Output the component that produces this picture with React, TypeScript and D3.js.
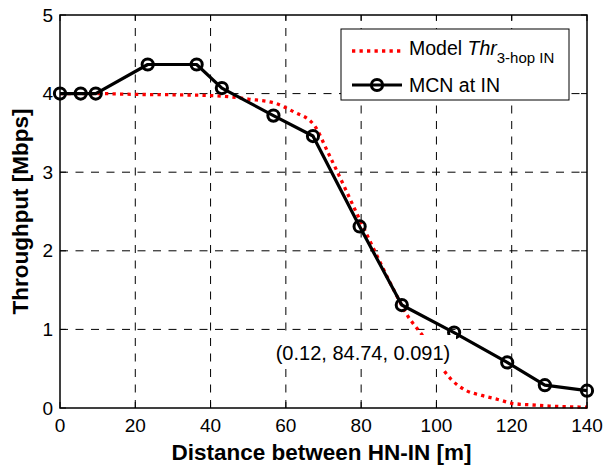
import React from "react";
import * as d3 from "d3";

const xTicks = [0, 20, 40, 60, 80, 100, 120, 140];
const yTicks = [0, 1, 2, 3, 4, 5];

const mcnX = [0, 5.5, 9.5, 23.3, 36.3, 43, 56.7, 67.2, 79.6, 90.8, 104.7, 118.8, 128.8, 140];
const mcnY = [4.0, 4.0, 4.0, 4.37, 4.37, 4.07, 3.72, 3.46, 2.31, 1.31, 0.96, 0.58, 0.29, 0.22];

const modelX = [0, 10, 20, 30, 40, 45, 50, 57, 62, 67.5, 71.3, 79.7, 88.9, 92, 96.9, 101.6, 104, 108, 112, 117, 120, 125, 130, 140];
const modelY = [4.0, 4.0, 3.99, 3.985, 3.975, 3.96, 3.93, 3.88, 3.77, 3.6, 3.24, 2.39, 1.48, 1.2, 0.88, 0.5, 0.36, 0.22, 0.16, 0.1, 0.06, 0.04, 0.025, 0.01];

const annotation = "(0.12, 84.74, 0.091)";

const W = 604, H = 468;
const L = 60, R = 587, T = 15, B = 408;
const FONT = "'Liberation Sans', Arial, sans-serif";

export default function App() {
  const x = d3.scaleLinear().domain([0, 140]).range([L, R]);
  const y = d3.scaleLinear().domain([0, 5]).range([B, T]);

  const modelLine = d3
    .line<number>()
    .x((_, i) => x(modelX[i]))
    .y((d) => y(d))
    .curve(d3.curveMonotoneX)(modelY) as string;
  const mcnLine = d3
    .line<number>()
    .x((_, i) => x(mcnX[i]))
    .y((d) => y(d))(mcnY) as string;

  const grid = "8,7.5";
  const tickLen = 6;

  return (
    <svg
      width={W}
      height={H}
      style={{ position: "absolute", left: 0, top: 0, background: "#fff" }}
      fontFamily={FONT}
    >
      <rect x={0} y={0} width={W} height={H} fill="#fff" />
      {xTicks.slice(1, -1).map((t) => (
        <line key={"gx" + t} x1={x(t)} x2={x(t)} y1={B} y2={T} stroke="#000" strokeWidth={1} strokeDasharray={grid} />
      ))}
      {yTicks.slice(1, -1).map((t) => (
        <line key={"gy" + t} x1={L} x2={R} y1={y(t)} y2={y(t)} stroke="#000" strokeWidth={1} strokeDasharray={grid} />
      ))}
      {xTicks.map((t) => (
        <g key={"tx" + t}>
          <line x1={x(t)} x2={x(t)} y1={B} y2={B - tickLen} stroke="#000" strokeWidth={1} />
          <line x1={x(t)} x2={x(t)} y1={T} y2={T + tickLen} stroke="#000" strokeWidth={1} />
          <text x={x(t)} y={432} textAnchor="middle" fontSize={19}>{t}</text>
        </g>
      ))}
      {yTicks.map((t) => (
        <g key={"ty" + t}>
          <line x1={L} x2={L + tickLen} y1={y(t)} y2={y(t)} stroke="#000" strokeWidth={1} />
          <line x1={R} x2={R - tickLen} y1={y(t)} y2={y(t)} stroke="#000" strokeWidth={1} />
          <text x={53} y={y(t) + 6.5} textAnchor="end" fontSize={19}>{t}</text>
        </g>
      ))}
      <path d={modelLine} fill="none" stroke="#ff0000" strokeWidth={3.3} strokeDasharray="3.3,4.2" />
      <path d={mcnLine} fill="none" stroke="#000" strokeWidth={3.2} strokeLinejoin="round" />
      {mcnY.map((d, i) => (
        <circle key={"m" + i} cx={x(mcnX[i])} cy={y(d)} r={5.6} fill="none" stroke="#000" strokeWidth={3} />
      ))}
      <rect x={270} y={335} width={186} height={34} fill="#fff" />
      <text x={363} y={360} textAnchor="middle" fontSize={20}>{annotation}</text>
      <rect x={L} y={T} width={R - L} height={B - T} fill="none" stroke="#000" strokeWidth={1.5} />
      <rect x={341} y={29} width={228} height={71} fill="#fff" stroke="#000" strokeWidth={1} />
      <line x1={352} x2={402} y1={51} y2={51} stroke="#ff0000" strokeWidth={3.3} strokeDasharray="3.3,4.2" />
      <text x={409} y={55} fontSize={19.5}>
        Model <tspan fontStyle="italic">Thr</tspan>
        <tspan fontSize={15} dy={8}>3-hop IN</tspan>
      </text>
      <line x1={352} x2={402} y1={85} y2={85} stroke="#000" strokeWidth={3.2} />
      <circle cx={377} cy={85} r={5.6} fill="none" stroke="#000" strokeWidth={3} />
      <text x={409} y={92} fontSize={19.5}>MCN at IN</text>
      <text x={(L + R) / 2 - 2} y={460} textAnchor="middle" fontSize={22.5} fontWeight="bold">
        Distance between HN-IN [m]
      </text>
      <text
        transform={`translate(28, ${(T + B) / 2}) rotate(-90)`}
        textAnchor="middle"
        fontSize={22.5}
        fontWeight="bold"
      >
        Throughput [Mbps]
      </text>
    </svg>
  );
}
